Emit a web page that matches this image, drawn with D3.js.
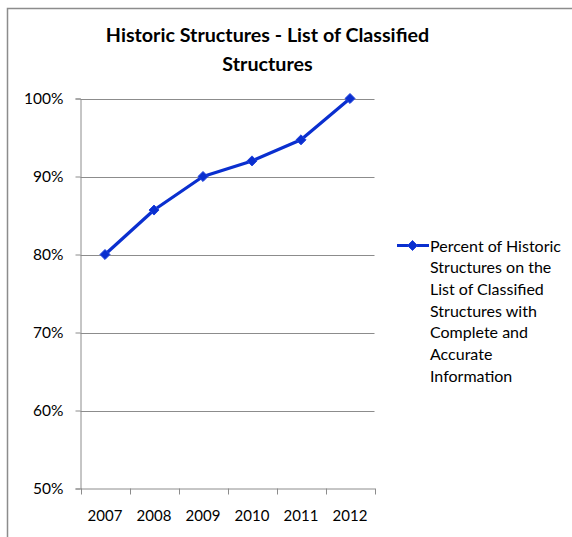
<!DOCTYPE html>
<html>
<head>
<meta charset="utf-8">
<script src="https://cdn.jsdelivr.net/npm/d3@7"></script>
<style>
html,body{margin:0;padding:0;background:#fff;}
svg{display:block;}
text{font-family:Lato,"Open Sans",sans-serif;fill:#000;}
</style>
</head>
<body>
<svg id="chart" width="572" height="537"></svg>
<script>
const titleLines = ["Historic Structures - List of Classified", "Structures"];
const years = ["2007", "2008", "2009", "2010", "2011", "2012"];
const percentValues = [80, 85.7, 90, 92, 94.7, 100];
const yTicks = [50, 60, 70, 80, 90, 100];
const legendLines = ["Percent of Historic", "Structures on the", "List of Classified", "Structures with", "Complete and", "Accurate", "Information"];

const svg = d3.select("#chart");
const blue = "#0a2fcf";

// outer frame
svg.append("rect").attr("x", 7.5).attr("y", 8.5).attr("width", 600).attr("height", 600)
  .attr("fill", "none").attr("stroke", "#8c8c8c").attr("stroke-width", 1.5);

const plot = {left: 80.5, right: 374.5, top: 98.5, bottom: 488.5};

const x = d3.scaleBand().domain(years).range([plot.left, plot.right]);
const y = d3.scaleLinear().domain([50, 100]).range([plot.bottom, plot.top]);

// gridlines
svg.append("g").selectAll("line").data(yTicks.slice(1)).join("line")
  .attr("x1", plot.left).attr("x2", plot.right)
  .attr("y1", d => Math.round(y(d)) + 0.5).attr("y2", d => Math.round(y(d)) + 0.5)
  .attr("stroke", "#8c8c8c").attr("stroke-width", 1);

// y axis
const yAxis = svg.append("g").attr("transform", `translate(${plot.left},0)`)
  .call(d3.axisLeft(y).tickValues(yTicks).tickFormat(d => d + "%").tickSize(5).tickPadding(12));
yAxis.select(".domain").attr("stroke", "#8c8c8c");
yAxis.selectAll(".tick line").attr("stroke", "#8c8c8c");
yAxis.selectAll(".tick text").style("font-size", "15.5px").style("font-family", "Lato, sans-serif").attr("fill", "#000");

// x axis
const xAxis = svg.append("g").attr("transform", `translate(0,${plot.bottom})`)
  .call(d3.axisBottom(x).tickSize(0).tickPadding(22));
xAxis.select(".domain").attr("stroke", "#8c8c8c");
xAxis.selectAll(".tick text").style("font-size", "15px").style("font-family", "Lato, sans-serif").attr("fill", "#000");
// tick marks at band boundaries
const bounds = years.map(d => x(d)).concat([x(years[years.length - 1]) + x.bandwidth()]);
svg.append("g").selectAll("line").data(bounds).join("line")
  .attr("x1", d => Math.round(d) + 0.5).attr("x2", d => Math.round(d) + 0.5)
  .attr("y1", plot.bottom).attr("y2", plot.bottom + 6)
  .attr("stroke", "#8c8c8c");

// line
const cx = d => x(d) + x.bandwidth() / 2;
svg.append("path").datum(years.map((d, i) => [cx(d), y(percentValues[i])]))
  .attr("d", d3.line()).attr("fill", "none").attr("stroke", blue).attr("stroke-width", 3.2)
  .attr("stroke-linejoin", "round");

const diamond = d3.symbol().type(d3.symbolDiamond2).size(64);
svg.append("g").selectAll("path").data(years).join("path")
  .attr("d", diamond)
  .attr("transform", (d, i) => `translate(${cx(d)},${y(percentValues[i])})`)
  .attr("fill", blue).attr("stroke", "#2244dd").attr("stroke-width", 1);

// title
svg.append("text").attr("x", 267.5).attr("y", 42).attr("text-anchor", "middle")
  .style("font-size", "19.7px").style("font-weight", "bold").text(titleLines[0]);
svg.append("text").attr("x", 267.5).attr("y", 71).attr("text-anchor", "middle")
  .style("font-size", "19.7px").style("font-weight", "bold").text(titleLines[1]);

// legend
svg.append("line").attr("x1", 397).attr("x2", 429).attr("y1", 245.5).attr("y2", 245.5)
  .attr("stroke", blue).attr("stroke-width", 3);
svg.append("path").attr("d", diamond).attr("transform", "translate(412.5,245.5)")
  .attr("fill", blue).attr("stroke", "#2244dd");
svg.append("g").selectAll("text").data(legendLines).join("text")
  .attr("x", 430).attr("y", (d, i) => 251.5 + i * 21.7)
  .style("font-size", "16px").text(d => d);
</script>
</body>
</html>
